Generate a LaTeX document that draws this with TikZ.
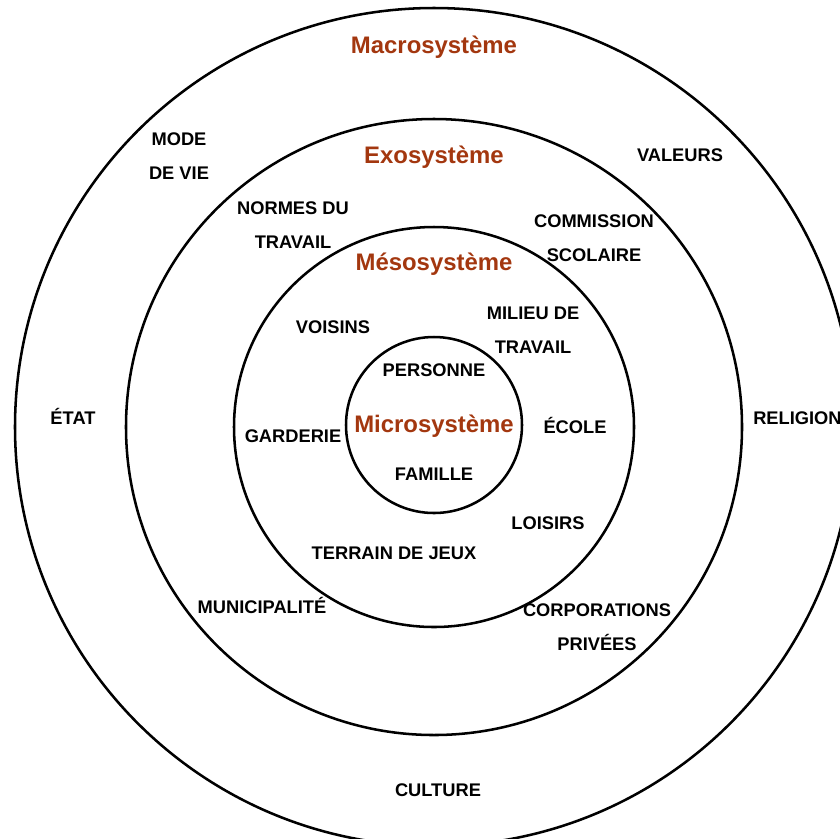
\documentclass[tikz,border=0pt]{standalone}
\usepackage{fontspec}
\setmainfont{Liberation Sans}
\definecolor{brique}{RGB}{163,55,15}

\begin{document}
\begin{tikzpicture}[x=0.025cm, y=-0.025cm,
    anneau/.style={line width=1.8pt},
    lbl/.style={font=\fontsize{13}{23.8}\selectfont\bfseries, align=center, inner sep=0pt},
    titre/.style={font=\fontsize{17}{20}\selectfont\bfseries, text=brique, inner sep=0pt}]
\useasboundingbox (0,0) rectangle (840,838);
\clip (0,0) rectangle (840,838);
\coordinate (c) at (434,427);
% les quatre cercles
\draw[anneau] (c) circle[radius=419];
\draw[anneau] (c) circle[radius=308];
\draw[anneau] (c) circle[radius=200];
\draw[anneau] (434,425) circle[radius=88];

% titres
\node[titre] (macro) at (434,47) {Macrosystème};
\node[titre] (exo) at (434,157) {Exosystème};
\node[titre] (meso) at (434,264) {Mésosystème};
\node[titre] (micro) at (434,426) {Microsystème};

% macrosysteme
\node[lbl] (mode) at (179,156) {MODE\\DE VIE};
\node[lbl] (valeurs) at (680,155) {VALEURS};
\node[lbl] (etat) at (73,416) {ÉTAT};
\node[lbl, anchor=west] (religion) at (753,418) {RELIGION};
\node[lbl] (culture) at (438,790) {CULTURE};

% exosysteme
\node[lbl] (normes) at (293,225) {NORMES DU\\TRAVAIL};
\node[lbl] (commission) at (594,238) {COMMISSION\\SCOLAIRE};
\node[lbl] (municipalite) at (262,605) {MUNICIPALITÉ};
\node[lbl] (corporations) at (597,627) {CORPORATIONS\\PRIVÉES};

% mesosysteme
\node[lbl] (voisins) at (333,327) {VOISINS};
\node[lbl] (milieu) at (533,330) {MILIEU DE\\TRAVAIL};
\node[lbl] (garderie) at (293,436) {GARDERIE};
\node[lbl] (ecole) at (575,425) {ÉCOLE};
\node[lbl] (loisirs) at (548,523) {LOISIRS};
\node[lbl] (terrain) at (394,553) {TERRAIN DE JEUX};

% microsysteme
\node[lbl] (personne) at (434,370) {PERSONNE};
\node[lbl] (famille) at (434,474) {FAMILLE};
\end{tikzpicture}
\end{document}
